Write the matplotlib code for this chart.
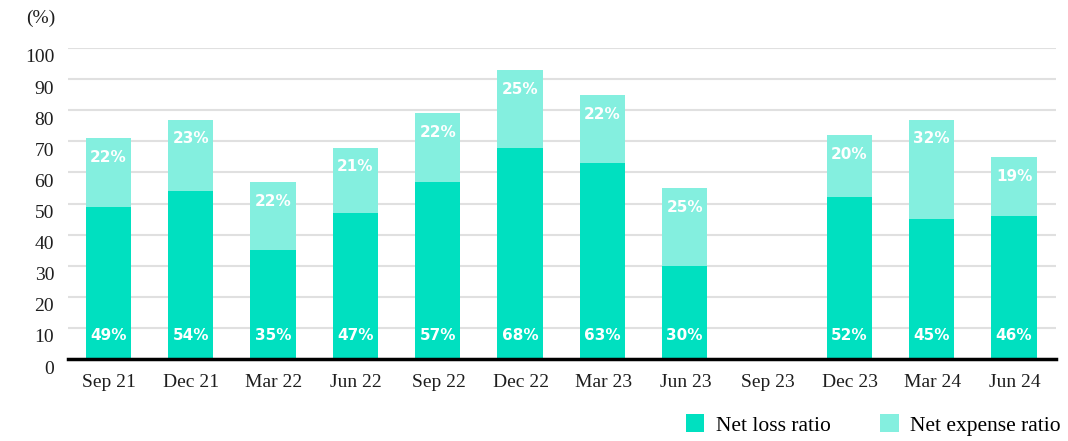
import numpy as np
import matplotlib.pyplot as plt
import matplotlib.transforms as mtransforms
from matplotlib.patches import Patch

plt.rcParams['font.family'] = ['Liberation Serif', 'DejaVu Serif']

C_LOSS = '#00E0C0'
C_EXP = '#84EFDF'

quarters = ['Sep 21', 'Dec 21', 'Mar 22', 'Jun 22', 'Sep 22', 'Dec 22',
            'Mar 23', 'Jun 23', 'Sep 23', 'Dec 23', 'Mar 24', 'Jun 24']
net_loss = [49, 54, 35, 47, 57, 68, 63, 30, np.nan, 52, 45, 46]
net_expense = [22, 23, 22, 21, 22, 25, 22, 25, np.nan, 20, 32, 19]
y_ticks = [0, 10, 20, 30, 40, 50, 60, 70, 80, 90, 100]

fig = plt.figure(figsize=(10.68, 4.41), dpi=100)
ax = fig.add_axes([68 / 1068, 1 - 359 / 441, 988 / 1068, 311 / 441])

x = np.arange(len(quarters))
loss = np.array(net_loss, dtype=float)
exp_ = np.array(net_expense, dtype=float)

ax.bar(x - 0.01, loss, width=0.55, color=C_LOSS, zorder=3)
ax.bar(x - 0.01, exp_, bottom=loss, width=0.55, color=C_EXP, zorder=3)

lab_kw = dict(color='white', fontweight='bold', fontsize=11, ha='center', va='center',
              family=['DejaVu Sans'], zorder=4, textcoords='offset points')
for i in x:
    if np.isnan(loss[i]):
        continue
    ax.annotate(f'{int(loss[i])}%', xy=(i - 0.01, 0), xytext=(0, 17), **lab_kw)
    ax.annotate(f'{int(exp_[i])}%', xy=(i - 0.01, loss[i] + exp_[i]), xytext=(0, -14), **lab_kw)

ax.set_xlim(-0.5, len(quarters) - 0.5)
ax.set_ylim(0, 100)
ax.set_yticks(y_ticks)
ax.set_xticks(x)
ax.set_xticklabels(quarters)
ax.tick_params(axis='both', length=0, labelsize=14, colors='#1e1e1e')
ax.tick_params(axis='y', pad=10)
ax.tick_params(axis='x', pad=11)

# y labels sit slightly below their gridlines
off = mtransforms.ScaledTranslation(0, -8 / 100, fig.dpi_scale_trans)
for lbl in ax.get_yticklabels():
    lbl.set_transform(lbl.get_transform() + off)

ax.grid(axis='y', color='#e0e0e0', linewidth=1.5, zorder=0)
for s in ['top', 'right', 'left']:
    ax.spines[s].set_visible(False)
ax.spines['bottom'].set_linewidth(2.5)
ax.spines['bottom'].set_color('black')
ax.spines['bottom'].set_zorder(5)

fig.text(55 / 1068, 1 - 18 / 441, '(%)', ha='right', va='center', fontsize=14, color='#1e1e1e')

handles = [Patch(facecolor=C_LOSS, label='Net loss ratio'),
           Patch(facecolor=C_EXP, label='Net expense ratio')]
fig.legend(handles=handles, loc='center right', bbox_to_anchor=(1061 / 1068, 1 - 425 / 441),
           ncol=2, frameon=False, fontsize=15.5, handlelength=0.85, handleheight=0.85,
           handletextpad=0.55, columnspacing=2.3, borderaxespad=0, borderpad=0)

fig.savefig('out.png', dpi=100)
